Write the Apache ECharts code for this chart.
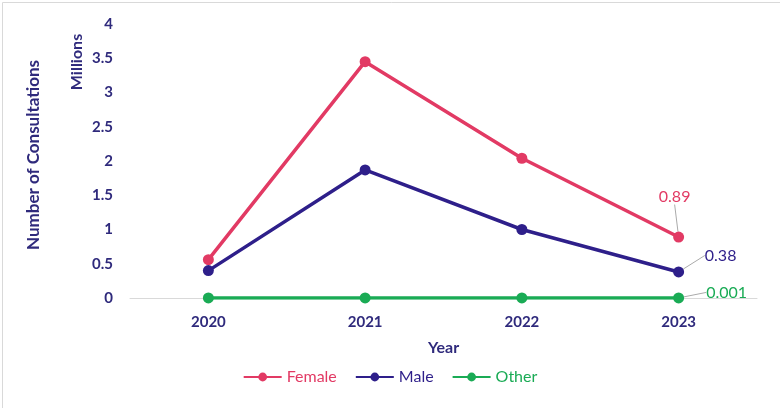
<!DOCTYPE html>
<html><head><meta charset="utf-8">
<script src="https://cdn.jsdelivr.net/npm/echarts@6/dist/echarts.min.js"></script>
<style>html,body{margin:0;padding:0;background:#fff}#c{width:780px;height:408px}</style>
</head><body><div id="c"></div>
<script>
const years = ['2020','2021','2022','2023'];
const female = [0.56, 3.45, 2.04, 0.89];
const male = [0.40, 1.87, 1.00, 0.38];
const other = [0.001, 0.001, 0.001, 0.001];
const yTicks = [0, 0.5, 1, 1.5, 2, 2.5, 3, 3.5, 4];

const txt = '#2f2a7c';
const font = 'Lato';
const colors = {Female:'#e23a64', Male:'#2e1f8a', Other:'#1aab55'};

function mk(name, data, dx, dy, guide) {
  const last = data.length - 1;
  return {
    name, type:'line', data: data.map((v,i)=> i===last ? {value:v, label:{show:true}, labelLine:{show: guide}} : v),
    symbol:'circle', symbolSize:11, lineStyle:{width:3.5, color:colors[name]},
    itemStyle:{color:colors[name]},
    label:{show:false, position:'top', formatter: p=>String(p.value), color:colors[name], fontFamily:font, fontSize:16},
    labelLine:{lineStyle:{color:'#aaaaaa', width:1}},
    labelLayout: p => p.dataIndex===last ? {dx:dx, dy:dy} : {}
  };
}

const chart = echarts.init(document.getElementById('c'), null, {renderer:'canvas'});
chart.setOption({
  animation:false,
  textStyle:{fontFamily:font},
  grid:{left:130, right:23, top:24, bottom:110},
  legend:{bottom:18, left:'center', itemWidth:38, itemHeight:11, itemGap:18,
    textStyle:{fontFamily:font, fontSize:16},
    data:[{name:'Female', textStyle:{color:colors.Female}},{name:'Male', textStyle:{color:colors.Male}},{name:'Other', textStyle:{color:colors.Other}}]},
  xAxis:{type:'category', data:years, boundaryGap:true,
    axisLine:{lineStyle:{color:'#d9d9d9'}}, axisTick:{show:false},
    axisLabel:{color:txt, fontWeight:'bold', fontSize:15, margin:17, fontFamily:font},
    name:'Year', nameLocation:'middle', nameGap:42,
    nameTextStyle:{color:txt, fontWeight:'bold', fontSize:16, fontFamily:font}},
  yAxis:{type:'value', min:yTicks[0], max:yTicks[yTicks.length-1], interval:0.5,
    axisLine:{show:false}, axisTick:{show:false}, splitLine:{show:false},
    axisLabel:{color:txt, fontWeight:'bold', fontSize:15, margin:17, fontFamily:font}},
  graphic:[
    {type:'rect', left:0, top:0, shape:{x:0,y:0,width:779,height:407}, style:{fill:'none', stroke:'#d9d9d9', lineWidth:1}, silent:true, z:-1},
    {type:'text', x:34, y:155, rotation:Math.PI/2, style:{text:'Number of Consultations', fill:txt, font:'bold 17px Lato', textAlign:'center', textVerticalAlign:'middle'}},
    {type:'text', x:77, y:62, rotation:Math.PI/2, style:{text:'Millions', fill:txt, font:'bold 16px Lato', textAlign:'center', textVerticalAlign:'middle'}}
  ],
  series:[
    mk('Female', female, -4, -22, true),
    mk('Male', male, 42, 2, true),
    mk('Other', other, 48, 13, true)
  ]
});
</script></body></html>
